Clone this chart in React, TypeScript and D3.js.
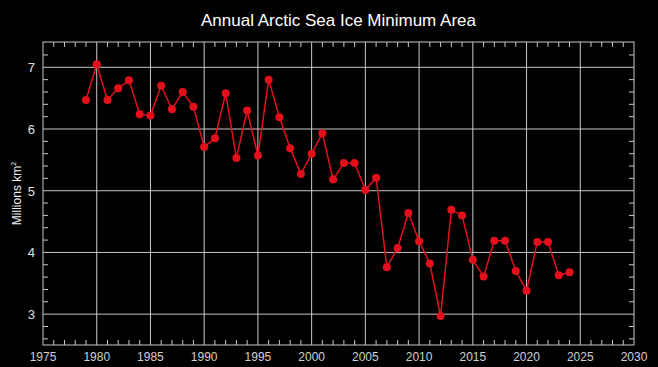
import React, { useEffect, useRef } from 'react';
import * as d3 from 'd3';

const years = [
  1979, 1980, 1981, 1982, 1983, 1984, 1985, 1986, 1987, 1988, 1989, 1990, 1991, 1992, 1993,
  1994, 1995, 1996, 1997, 1998, 1999, 2000, 2001, 2002, 2003, 2004, 2005, 2006, 2007, 2008,
  2009, 2010, 2011, 2012, 2013, 2014, 2015, 2016, 2017, 2018, 2019, 2020, 2021, 2022, 2023, 2024,
];
const minArea = [
  6.47, 7.05, 6.47, 6.66, 6.79, 6.24, 6.22, 6.70, 6.32, 6.60, 6.36, 5.71, 5.85, 6.58, 5.53,
  6.30, 5.57, 6.80, 6.19, 5.69, 5.27, 5.60, 5.93, 5.18, 5.45, 5.45, 5.01, 5.21, 3.76, 4.07,
  4.64, 4.18, 3.82, 2.97, 4.69, 4.60, 3.88, 3.61, 4.19, 4.19, 3.70, 3.38, 4.17, 4.17, 3.63, 3.68,
];
const xTicks = [1975, 1980, 1985, 1990, 1995, 2000, 2005, 2010, 2015, 2020, 2025, 2030];
const yTicks = [3, 4, 5, 6, 7];

const App = () => {
  const svgRef = useRef(null);

  useEffect(() => {
    document.body.style.margin = '0';
    const W = 658;
    const H = 367;
    const margin = { top: 42, right: 24, bottom: 22, left: 43 };

    const svg = d3.select(svgRef.current);
    svg.selectAll('*').remove();
    svg.attr('width', W).attr('height', H);

    svg.append('rect').attr('width', W).attr('height', H).attr('fill', '#000');

    const x = d3.scaleLinear().domain([1975, 2030]).range([margin.left, W - margin.right]);
    const y = d3.scaleLinear().domain([2.5, 7.41]).range([H - margin.bottom, margin.top]);

    const gridCol = '#c8c8c8';
    const [x0, x1] = x.range();
    const [y0, y1] = y.range();

    // grid
    svg.append('g').selectAll('line').data(xTicks.slice(1, -1)).enter().append('line')
      .attr('x1', d => x(d)).attr('x2', d => x(d)).attr('y1', y1).attr('y2', y0)
      .attr('stroke', gridCol).attr('stroke-width', 1);
    svg.append('g').selectAll('line').data(yTicks).enter().append('line')
      .attr('x1', x0).attr('x2', x1).attr('y1', d => y(d)).attr('y2', d => y(d))
      .attr('stroke', gridCol).attr('stroke-width', 1);

    // minor ticks
    const minorX = d3.range(1976, 2030).filter(v => v % 5 !== 0);
    const tickLen = 5;
    const mt = svg.append('g').attr('stroke', gridCol).attr('stroke-width', 1);
    minorX.forEach(v => {
      mt.append('line').attr('x1', x(v)).attr('x2', x(v)).attr('y1', y0).attr('y2', y0 - tickLen);
      mt.append('line').attr('x1', x(v)).attr('x2', x(v)).attr('y1', y1).attr('y2', y1 + tickLen);
    });
    const minorY = d3.range(26, 74, 2).map(v => v / 10).filter(v => Math.abs(v - Math.round(v)) > 0.01);
    minorY.forEach(v => {
      mt.append('line').attr('x1', x0).attr('x2', x0 + tickLen).attr('y1', y(v)).attr('y2', y(v));
      mt.append('line').attr('x1', x1).attr('x2', x1 - tickLen).attr('y1', y(v)).attr('y2', y(v));
    });

    // frame
    svg.append('rect').attr('x', x0).attr('y', y1).attr('width', x1 - x0).attr('height', y0 - y1)
      .attr('fill', 'none').attr('stroke', gridCol).attr('stroke-width', 1);

    // tick labels
    const font = 'Liberation Sans, Arial, sans-serif';
    svg.append('g').selectAll('text').data(xTicks).enter().append('text')
      .attr('x', d => x(d)).attr('y', y0 + 16).attr('text-anchor', 'middle')
      .attr('fill', '#d0d0d0').attr('font-family', font).attr('font-size', 12).text(d => d);
    svg.append('g').selectAll('text').data(yTicks).enter().append('text')
      .attr('x', x0 - 8).attr('y', d => y(d) + 5).attr('text-anchor', 'end')
      .attr('fill', '#e0e0e0').attr('font-family', font).attr('font-size', 13).text(d => d);

    // axis label
    const yl = svg.append('text')
      .attr('transform', `translate(21,${(y0 + y1) / 2}) rotate(-90)`)
      .attr('text-anchor', 'middle').attr('fill', '#f0f0f0')
      .attr('font-family', font).attr('font-size', 12);
    yl.append('tspan').text('Millions km');
    yl.append('tspan').attr('font-size', 7).attr('dy', -5).text('2');

    // title
    svg.append('text').attr('x', (x0 + x1) / 2).attr('y', 26).attr('text-anchor', 'middle')
      .attr('fill', '#fff').attr('font-family', font).attr('font-size', 17)
      .text('Annual Arctic Sea Ice Minimum Area');

    // series
    const pts = years.map((yr, i) => [yr, minArea[i]]);
    const red = '#e3101c';
    svg.append('path').datum(pts)
      .attr('d', d3.line().x(d => x(d[0])).y(d => y(d[1])))
      .attr('fill', 'none').attr('stroke', red).attr('stroke-width', 1.5);
    svg.append('g').selectAll('circle').data(pts).enter().append('circle')
      .attr('cx', d => x(d[0])).attr('cy', d => y(d[1])).attr('r', 4)
      .attr('fill', red);
  }, []);

  return <svg ref={svgRef} style={{ display: 'block' }}></svg>;
};

export default App;
